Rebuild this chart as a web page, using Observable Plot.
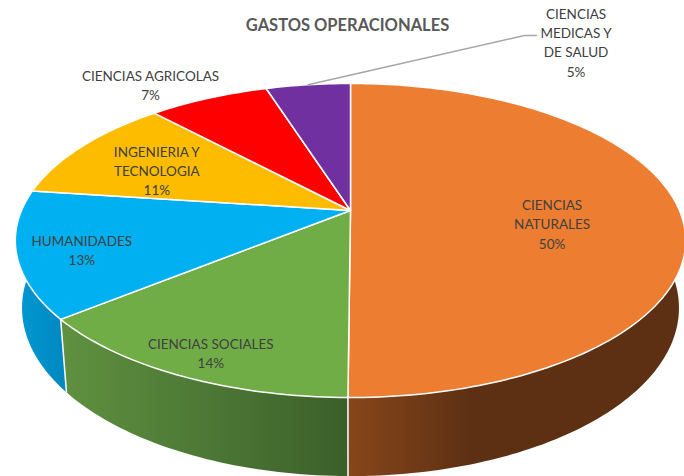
<!DOCTYPE html>
<html>
<head>
<meta charset="utf-8">
<script src="https://cdn.jsdelivr.net/npm/d3@7"></script>
<script src="https://cdn.jsdelivr.net/npm/@observablehq/plot@0.6"></script>
<style>html,body{margin:0;padding:0;background:#fff;overflow:hidden}svg{display:block}</style>
</head>
<body>
<div id="chart"></div>
<script>
const chartTitle = "GASTOS OPERACIONALES";
const categories = ["CIENCIAS NATURALES", "CIENCIAS SOCIALES", "HUMANIDADES", "INGENIERIA Y TECNOLOGIA", "CIENCIAS AGRICOLAS", "CIENCIAS MEDICAS Y DE SALUD"];
const labelLines = ["CIENCIAS\nNATURALES", "CIENCIAS SOCIALES", "HUMANIDADES", "INGENIERIA Y\nTECNOLOGIA", "CIENCIAS AGRICOLAS", "CIENCIAS\nMEDICAS Y\nDE SALUD"];
const values = [50.1, 14, 13, 11, 7, 4.9];
const topColors = ["#ED7D31", "#70AD47", "#00B0F0", "#FDBC00", "#FF0000", "#7030A0"];
const wallFills = ["url(#wall0)", "url(#wall1)", "url(#wall2)", "#a0780a", "#a00000", "#4a2070"];

// Label placement: radial fraction along each slice's mid-angle, then a pixel nudge
const labelRadius = [0.57, 0.8, 0.81, 0.7, 1.2, 1];
const labelDx = [14, -8, -1, -1, -34, 268];
const labelDy = [12.5, 15, 4, 5, 5, -43];
const leaderElbowX = [0.529, 0.565];
const leaderElbowY = [-1.157, -1.157];

// Perspective of the tilted disc
const persp = 0.191;
const wallShiftY = 0.4316, wallScaleY = 1.0707, wallScaleX = 0.98;

function disc(theta, r = 1) {
  const X = r * Math.sin(theta), Y = -r * Math.cos(theta), w = 1 - persp * Y;
  return [X / w, Y / w];
}
const floorOf = ([x, y]) => [x * wallScaleX, wallShiftY + wallScaleY * y];

const arcs = d3.pie().sort(null)(values);
const rim = (a, n = 160) => {
  const steps = Math.max(2, Math.ceil(n * (a.endAngle - a.startAngle) / Math.PI));
  return d3.range(steps + 1).map(i => disc(a.startAngle + (a.endAngle - a.startAngle) * i / steps));
};

const wallMarks = arcs.map((a, i) => {
  const top = rim(a);
  const poly = [...top, ...top.map(floorOf).reverse()];
  return Plot.line(poly, {x: d => d[0], y: d => d[1], fill: wallFills[i], stroke: "none", curve: "linear"});
});
const seams = arcs.map(a => {
  const p = disc(a.startAngle);
  return Plot.line([p, floorOf(p)], {x: d => d[0], y: d => d[1], stroke: "#fff", strokeWidth: 1.5});
});
const topMarks = arcs.map((a, i) =>
  Plot.line([[0, 0], ...rim(a), [0, 0]], {
    x: d => d[0], y: d => d[1], fill: topColors[i], stroke: "#fff", strokeWidth: 1.5, strokeLinejoin: "round"
  })
);
const midOf = a => (a.startAngle + a.endAngle) / 2;
const labelMarks = arcs.map((a, i) => {
  const p = disc(midOf(a), labelRadius[i]);
  return Plot.text([p], {
    x: d => d[0], y: d => d[1],
    text: () => `${labelLines[i]}\n${Math.round(values[i])}%`,
    dx: labelDx[i], dy: labelDy[i],
    fontSize: 13.5, lineHeight: 1.42, fill: "#404040", textAnchor: "middle", lineAnchor: "middle"
  });
});
const last = arcs[arcs.length - 1];
const leader = Plot.line(
  [disc(midOf(last)), ...leaderElbowX.map((x, i) => [x, leaderElbowY[i]])],
  {x: d => d[0], y: d => d[1], stroke: "#A6A6A6", strokeWidth: 1.4}
);

const gradients = () => d3.create("svg:defs").html(`
  <linearGradient id="wall0" x1="0" x2="1" y1="0" y2="0">
    <stop offset="0" stop-color="#87461B"/><stop offset="0.36" stop-color="#5E3013"/><stop offset="1" stop-color="#5E3013"/>
  </linearGradient>
  <linearGradient id="wall1" x1="0" x2="1" y1="0" y2="0">
    <stop offset="0" stop-color="#5F9140"/><stop offset="1" stop-color="#3B5F2A"/>
  </linearGradient>
  <linearGradient id="wall2" x1="0" x2="1" y1="0" y2="0">
    <stop offset="0" stop-color="#0099D2"/><stop offset="1" stop-color="#0087BF"/>
  </linearGradient>`).node();

const chart = Plot.plot({
  width: 684, height: 476,
  margin: 0,
  style: {fontFamily: "Lato, 'Open Sans', sans-serif", background: "#fff"},
  x: {domain: [-1, 1], range: [21, 679], axis: null},
  y: {domain: [-1, 1], range: [58.7, 361.3], axis: null},
  marks: [
    gradients,
    ...wallMarks,
    ...seams,
    ...topMarks,
    leader,
    ...labelMarks,
    Plot.text([chartTitle], {
      text: d => d, frameAnchor: "top", dx: 5, dy: 25, lineAnchor: "middle",
      fontSize: 16.5, fontWeight: 700, fill: "#595959"
    })
  ]
});
document.getElementById("chart").append(chart);
</script>
</body>
</html>
